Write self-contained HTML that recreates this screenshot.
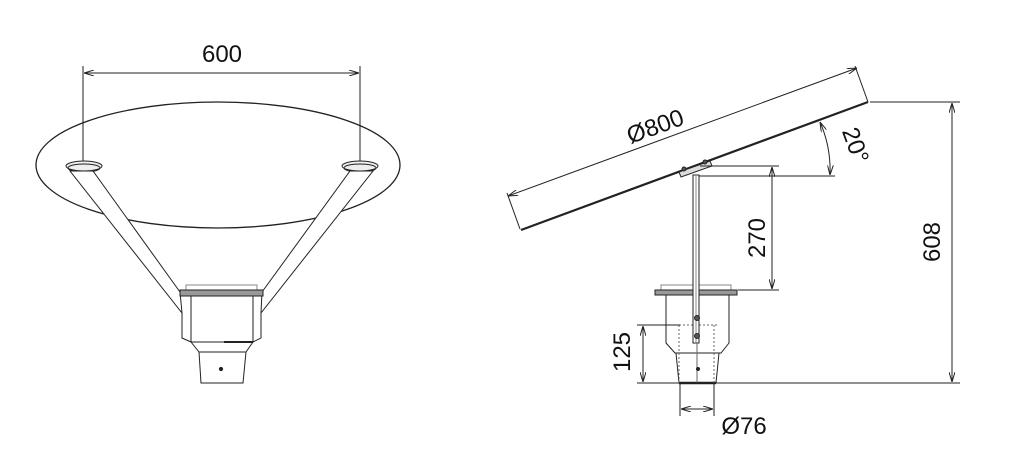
<!DOCTYPE html>
<html><head><meta charset="utf-8"><style>
html,body{margin:0;padding:0;background:#fff;width:1014px;height:461px;overflow:hidden}
svg{display:block}
text{font-family:"Liberation Sans",Arial,sans-serif;fill:#111}
</style></head><body>
<svg width="1014" height="461" viewBox="0 0 1014 461" xmlns="http://www.w3.org/2000/svg">
<defs>
<marker id="a" viewBox="0 0 10 6" refX="10" refY="3" markerWidth="10" markerHeight="6" orient="auto-start-reverse" markerUnits="userSpaceOnUse"><path d="M0,0 L10,3 L0,6" fill="none" stroke="#222" stroke-width="1"/></marker>
</defs>
<g fill="none" stroke="#222" stroke-width="1">
<!-- LEFT VIEW -->
<line x1="83" y1="66" x2="83" y2="166"/>
<line x1="360" y1="66" x2="360" y2="166"/>
<line x1="84" y1="73" x2="359" y2="73" marker-start="url(#a)" marker-end="url(#a)"/>
<ellipse cx="218" cy="165" rx="182" ry="63" stroke-width="1.3"/>
<ellipse cx="84" cy="166" rx="18" ry="5" fill="#eee"/>
<ellipse cx="84" cy="168" rx="16" ry="4"/>
<ellipse cx="360" cy="166" rx="18" ry="5" fill="#eee"/>
<ellipse cx="360" cy="168" rx="16" ry="4"/>
<polygon points="70,171 93,171 180,292 182,313" fill="#fff"/>
<polygon points="373,171 350,171 262,292 261,313" fill="#fff"/>
<path d="M182,313 V338 L191,342" /><path d="M261,313 V338 L253,342"/>
<rect x="186" y="285" width="71" height="5" fill="#fff" stroke="#888"/>
<rect x="180" y="290" width="83" height="6" fill="#999"/>
<rect x="191" y="296" width="62" height="46" fill="#fff"/>
<line x1="224" y1="342" x2="253" y2="342" stroke-width="2"/>
<path d="M191,342 L199,352 H246 L253,342"/>
<path d="M199,352 L201,383 H243 L246,352"/>
<circle cx="221" cy="369" r="1.6" fill="#222"/>

<!-- RIGHT VIEW -->
<line x1="521" y1="230" x2="868" y2="102" stroke-width="2.2"/>
<line x1="520" y1="229" x2="507" y2="193"/>
<line x1="868" y1="102" x2="855" y2="66"/>
<line x1="508" y1="196" x2="857" y2="68" marker-start="url(#a)" marker-end="url(#a)"/>
<line x1="697" y1="176" x2="835" y2="176"/>
<path d="M820,122 A 120 120 0 0 1 830,175" marker-start="url(#a)" marker-end="url(#a)"/>
<polygon points="679,172 710,161 712,166 681,177" fill="#ddd"/>
<circle cx="684" cy="169" r="2" fill="#555"/>
<circle cx="705" cy="162" r="2" fill="#555"/>
<line x1="700" y1="166" x2="779" y2="166"/>
<line x1="738" y1="290" x2="779" y2="290"/>
<line x1="772" y1="167" x2="772" y2="289" marker-start="url(#a)" marker-end="url(#a)"/>
<rect x="661" y="285" width="70" height="5" fill="#fff" stroke="#888"/>
<rect x="655" y="290" width="82" height="5" fill="#999"/>
<path d="M666,295 V343 L675,353 H721 L729,343 V295"/>
<path d="M676,353 L679,383 H716 L719,353"/>
<line x1="679" y1="383" x2="716" y2="383" stroke-width="2.4"/>
<path d="M679,325 H718 M679,325 V383 M714,325 V383" stroke-dasharray="2,2" stroke="#666"/>
<rect x="693" y="175" width="6" height="168" fill="#fff"/>
<line x1="696" y1="175" x2="696" y2="343" stroke="#888"/>
<circle cx="697" cy="318" r="2.5" fill="#555"/>
<circle cx="697" cy="336" r="2.5" fill="#555"/>
<line x1="697" y1="343" x2="697" y2="383" stroke="#666"/>
<circle cx="698" cy="369" r="1.5" fill="#222"/>
<line x1="870" y1="102" x2="960" y2="102"/>
<line x1="637" y1="383" x2="960" y2="383"/>
<line x1="952" y1="103" x2="952" y2="382" marker-start="url(#a)" marker-end="url(#a)"/>
<line x1="637" y1="325" x2="680" y2="325"/>
<line x1="643" y1="326" x2="643" y2="382" marker-start="url(#a)" marker-end="url(#a)"/>
<line x1="680" y1="384" x2="680" y2="416"/>
<line x1="714" y1="384" x2="714" y2="416"/>
<line x1="681" y1="409" x2="713" y2="409" marker-start="url(#a)" marker-end="url(#a)"/>
</g>
<g font-size="24">
<text x="222" y="62" text-anchor="middle">600</text>
<text transform="translate(658,134) rotate(-20)" text-anchor="middle">Ø800</text>
<text transform="translate(848,148) rotate(70)" text-anchor="middle">20°</text>
<text transform="translate(765,238) rotate(-90)" text-anchor="middle">270</text>
<text transform="translate(940,242) rotate(-90)" text-anchor="middle">608</text>
<text transform="translate(630,352) rotate(-90)" text-anchor="middle">125</text>
<text x="744" y="434" text-anchor="middle">Ø76</text>
</g>
</svg>
</body></html>
